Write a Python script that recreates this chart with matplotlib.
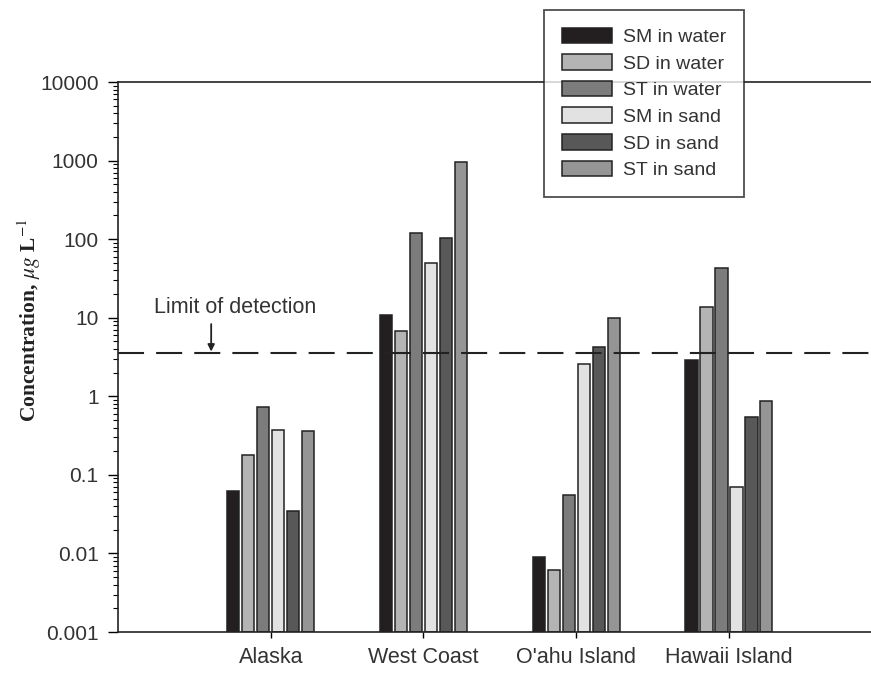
import numpy as np
import matplotlib.pyplot as plt

# data (log scale)
sites = ["Alaska", "West Coast", "O'ahu Island", "Hawaii Island"]
sm_water = [0.062, 10.7, 0.0089, 2.9]
sd_water = [0.18, 6.7, 0.0062, 13.5]
st_water = [0.72, 118, 0.055, 43]
sm_sand = [0.37, 50, 2.55, 0.071]
sd_sand = [0.035, 102, 4.2, 0.54]
st_sand = [0.36, 950, 9.8, 0.88]
series_labels = ["SM in water", "SD in water", "ST in water",
                 "SM in sand", "SD in sand", "ST in sand"]
lod = 3.6
ymin, ymax = 0.001, 10000
yticks = [0.001, 0.01, 0.1, 1, 10, 100, 1000, 10000]
ytick_labels = ["0.001", "0.01", "0.1", "1", "10", "100", "1000", "10000"]

colors = ["#231f20", "#b4b4b4", "#7c7c7c", "#e2e2e2", "#585858", "#959595"]

plt.rcParams['font.family'] = ['Liberation Sans', 'DejaVu Sans']
plt.rcParams['mathtext.fontset'] = 'stix'

fig = plt.figure(figsize=(8.71, 6.73), dpi=100)
ax = fig.add_axes([118/871, 1 - 632/673, 1 - 118/871, (632 - 82)/673])

x = np.arange(1, len(sites) + 1)
pitch = 0.098
width = 0.08
allseries = [sm_water, sd_water, st_water, sm_sand, sd_sand, st_sand]
for i, vals in enumerate(allseries):
    vals = np.array(vals)
    ax.bar(x + (i - 2.5) * pitch, vals - ymin, bottom=ymin, width=width,
           color=colors[i], edgecolor='#222222', linewidth=1.1,
           label=series_labels[i], zorder=2)

ax.set_yscale('log')
ax.set_ylim(ymin, ymax)
ax.set_xlim(0, 4.93)
ax.set_yticks(yticks)
ax.set_yticklabels(ytick_labels)
ax.set_xticks(x)
ax.set_xticklabels(sites)

ax.axhline(lod, color='#222222', lw=1.5, dashes=(12.5, 5.8), zorder=3)
# label + vertical arrow down to the detection line
ax.text(0.77, 13.5, 'Limit of detection', ha='center', va='center',
        fontsize=15.5, color='#333333')
ax.annotate('', xy=(0.61, lod * 1.03), xytext=(0.61, 8.3),
            arrowprops=dict(arrowstyle='-|>', color='#222222', lw=1.3,
                            mutation_scale=10, shrinkA=0, shrinkB=0))

fig.text(29/871, 1 - 320/673, r'Concentration, $\mu g$ L$^{-1}$',
         family='Liberation Serif', fontweight='bold', fontsize=15.5,
         rotation=90, ha='center', va='center', color='#222222')

for s in ['left', 'bottom', 'top']:
    ax.spines[s].set_linewidth(1.2)
    ax.spines[s].set_color('#222222')
ax.spines['right'].set_visible(False)
ax.tick_params(axis='y', which='major', direction='out', length=7, width=1.0,
               labelsize=15, labelcolor='#333333', pad=7)
ax.tick_params(axis='y', which='minor', direction='out', length=3.5, width=0.8)
ax.tick_params(axis='x', direction='out', length=4, width=1.0, labelsize=15.5,
               labelcolor='#333333', pad=7)

leg = fig.legend(loc='upper left', bbox_to_anchor=(544/871, 1 - 10/673),
                 fontsize=14, frameon=True, fancybox=False, edgecolor='#222222',
                 handlelength=2.6, handleheight=0.85, handletextpad=0.55,
                 labelspacing=0.42, borderpad=0.9, borderaxespad=0)
leg.get_frame().set_linewidth(1.3)
for t in leg.get_texts():
    t.set_color('#333333')

fig.savefig('out.png', dpi=100)
